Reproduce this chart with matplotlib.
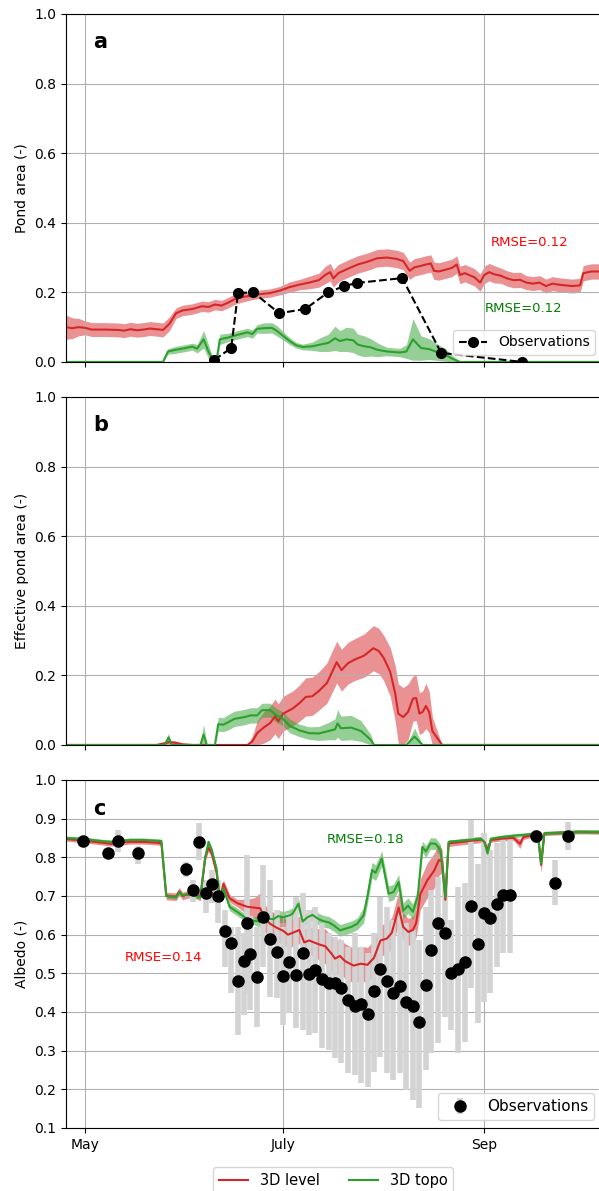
import numpy as np
import matplotlib.pyplot as plt

# time axis: days counted from 1 May
month_days = [0, 61, 123]
month_names = ['May', 'July', 'Sep']

# (a) pond area, 3D level run
pond_level_day = [-6, -4, -2, 0, 2, 6, 10, 12, 14, 16, 18, 20, 22, 24, 26, 28, 30, 33, 36, 38,
                  40, 42, 44, 46, 48, 51, 54, 57, 60, 63, 66, 69, 72, 74, 75.5, 76.5, 78, 81, 84, 87,
                  90, 93, 96, 98, 100, 101.5, 103, 105, 106.5, 107.5, 109, 111, 113, 114.5, 115.5,
                  117, 120, 121.7, 123, 124.5, 126, 128, 130, 132, 134, 136, 138, 140, 142, 144,
                  146, 148, 150, 152.5, 153.5, 156, 158.5]
pond_level = [0.10, 0.097, 0.10, 0.098, 0.093, 0.093, 0.092, 0.09, 0.094, 0.091, 0.093, 0.096, 0.094,
              0.092, 0.11, 0.14, 0.148, 0.152, 0.16, 0.158, 0.165, 0.162, 0.17, 0.18, 0.186, 0.19,
              0.195, 0.198, 0.205, 0.215, 0.222, 0.228, 0.235, 0.25, 0.258, 0.24, 0.255, 0.268, 0.28,
              0.288, 0.298, 0.30, 0.296, 0.29, 0.262, 0.272, 0.275, 0.28, 0.283, 0.262, 0.26, 0.265,
              0.27, 0.28, 0.25, 0.255, 0.243, 0.228, 0.25, 0.258, 0.252, 0.248, 0.24, 0.235, 0.236,
              0.228, 0.225, 0.228, 0.218, 0.225, 0.222, 0.22, 0.218, 0.22, 0.255, 0.26, 0.26]
pond_level_sd = ([0.035, 0.03, 0.025] + [0.02] * 12 + [0.015] * 10 + [0.012] * 4
                 + [0.015, 0.015, 0.018, 0.02] + [0.025] * 28 + [0.022] * 4 + [0.02] * 9 + [0.022] * 3)

# (a) pond area, 3D topo run
pond_topo_day = [-6, 24, 25.5, 28, 31, 33, 34.5, 36.5, 38, 39.5, 40.5, 41.5, 44, 47, 50, 51.5, 53, 55,
                 57.5, 59, 61, 63, 65, 67, 70, 72.5, 75, 77, 78.5, 80.5, 82.6, 84, 86, 88, 90, 93, 97,
                 99, 101, 102, 103.5, 106, 108, 111, 113, 115.5, 158.5]
pond_topo = [0, 0, 0.03, 0.035, 0.04, 0.044, 0.038, 0.065, 0.03, 0.003, 0.005, 0.065, 0.07, 0.078,
             0.085, 0.08, 0.095, 0.097, 0.098, 0.09, 0.075, 0.06, 0.048, 0.043, 0.045, 0.05, 0.055,
             0.068, 0.06, 0.065, 0.062, 0.05, 0.045, 0.042, 0.035, 0.03, 0.027, 0.03, 0.065, 0.055,
             0.04, 0.037, 0.03, 0.02, 0.01, 0, 0]
pond_topo_sd = [0, 0, 0.008, 0.01, 0.01, 0.01, 0.012, 0.025, 0.02, 0.005, 0.005, 0.015, 0.012, 0.012,
                0.012, 0.012, 0.012, 0.015, 0.015, 0.015, 0.012, 0.01, 0.008, 0.008, 0.012, 0.02, 0.025,
                0.035, 0.03, 0.035, 0.035, 0.03, 0.03, 0.025, 0.02, 0.012, 0.012, 0.02, 0.06, 0.05,
                0.035, 0.03, 0.025, 0.018, 0.01, 0, 0]

# (a) observed pond fraction
obs_pond_day = [39.8, 45.0, 47.1, 51.8, 59.8, 67.8, 74.9, 79.8, 83.8, 97.7, 109.7, 134.7]
obs_pond = [0.006, 0.04, 0.198, 0.2, 0.14, 0.152, 0.2, 0.218, 0.227, 0.241, 0.026, 0.0]

# (b) effective pond area
eff_level_day = [-6, 22, 24, 26, 28, 30, 33, 50, 51.5, 53, 55, 57, 58.5, 59.5, 61, 64, 66, 68, 70, 72,
                 74.5, 77.5, 79, 81, 83, 86, 88.8, 90.5, 92, 94, 95.5, 96.5, 98, 99.5, 101, 102, 103,
                 104, 105, 106, 107, 108.5, 110, 158.5]
eff_level = [0, 0, 0.004, 0.008, 0.006, 0.002, 0, 0, 0.01, 0.034, 0.05, 0.063, 0.082, 0.068, 0.09,
             0.105, 0.12, 0.138, 0.14, 0.155, 0.178, 0.238, 0.215, 0.235, 0.245, 0.257, 0.278, 0.27,
             0.25, 0.21, 0.15, 0.09, 0.08, 0.095, 0.133, 0.135, 0.09, 0.095, 0.112, 0.095, 0.04, 0.02,
             0, 0]
eff_level_sd = [0, 0, 0.004, 0.006, 0.005, 0.002, 0, 0, 0.015, 0.035, 0.045, 0.048, 0.05, 0.05, 0.05,
                0.05, 0.052, 0.055, 0.055, 0.055, 0.058, 0.06, 0.06, 0.06, 0.06, 0.062, 0.065, 0.065,
                0.065, 0.07, 0.08, 0.085, 0.085, 0.08, 0.065, 0.065, 0.06, 0.06, 0.065, 0.06, 0.04,
                0.02, 0, 0]

eff_topo_day = [-6, 24.5, 25.7, 26.7, 35.5, 36.5, 37.5, 40, 41, 42.5, 44, 46, 49, 51, 53, 54.5, 57, 59,
                61, 63, 66, 69, 72, 75, 77, 77.8, 78.8, 82, 85, 88, 89, 99, 101.5, 104, 158.5]
eff_topo = [0, 0, 0.022, 0, 0, 0.03, 0, 0, 0.06, 0.058, 0.065, 0.075, 0.08, 0.085, 0.085, 0.1, 0.1,
            0.085, 0.075, 0.055, 0.042, 0.034, 0.033, 0.04, 0.045, 0.062, 0.048, 0.05, 0.04, 0.015,
            0, 0, 0.024, 0, 0]
eff_topo_sd = [0, 0, 0.012, 0, 0, 0.03, 0, 0, 0.02, 0.02, 0.022, 0.022, 0.022, 0.022, 0.022, 0.02,
               0.02, 0.02, 0.02, 0.02, 0.018, 0.018, 0.02, 0.025, 0.03, 0.04, 0.035, 0.035, 0.03,
               0.015, 0, 0, 0.025, 0, 0]

# (c) albedo
alb_level_day = [-6, 0, 5, 8, 10, 14, 18, 22, 23.5, 25, 28, 29, 30, 32, 34, 35.5, 37, 38, 39, 40.5,
                 41.5, 42.6, 44.5, 47, 50, 52, 54, 55, 57, 59, 61, 62.5, 64, 66, 67.5, 69, 72, 74, 76,
                 77, 78.5, 80, 82.7, 85, 87, 89, 91, 93, 94.5, 96.6, 98, 99.6, 101, 102, 103.3, 105.4,
                 107.5, 109, 110, 111, 112, 116, 120, 122, 123, 124, 125, 128, 132, 134, 135, 138,
                 139.5, 140.5, 141.5, 146, 152, 158.5]
alb_level = [0.848, 0.843, 0.838, 0.835, 0.838, 0.84, 0.84, 0.838, 0.836, 0.70, 0.698, 0.712, 0.70,
             0.705, 0.703, 0.698, 0.80, 0.825, 0.81, 0.76, 0.69, 0.732, 0.694, 0.681, 0.672, 0.67,
             0.668, 0.645, 0.628, 0.618, 0.61, 0.60, 0.605, 0.612, 0.58, 0.585, 0.575, 0.57, 0.55,
             0.538, 0.545, 0.532, 0.52, 0.525, 0.522, 0.54, 0.585, 0.59, 0.605, 0.67, 0.62, 0.607,
             0.612, 0.63, 0.705, 0.74, 0.765, 0.793, 0.79, 0.69, 0.836, 0.84, 0.844, 0.846, 0.84,
             0.818, 0.845, 0.848, 0.85, 0.835, 0.852, 0.858, 0.86, 0.78, 0.862, 0.863, 0.866, 0.865]
alb_level_sd = ([0.006] * 9 + [0.01] * 15 + [0.02, 0.025, 0.04] + [0.035] * 9 + [0.04, 0.045]
                + [0.045] * 8 + [0.04] * 4 + [0.035] * 4 + [0.04, 0.045, 0.045, 0.04, 0.03, 0.02]
                + [0.008] * 5 + [0.015] + [0.006] * 3 + [0.012] + [0.006] * 3 + [0.02] + [0.005] * 4)

alb_topo_day = [-6, 0, 5, 8, 10, 14, 18, 22, 23.5, 25, 28, 29, 30, 32, 34, 35.5, 37, 38, 39, 40.5,
                41.5, 42.6, 44.5, 47, 50, 52, 54, 55, 56, 58, 59.5, 61, 63, 64, 65.7, 67, 68.5, 70, 72,
                73.4, 75, 76.6, 78.6, 80, 82, 83.8, 85.8, 87, 88.4, 89.5, 91.4, 93.5, 95, 96.6, 98,
                99.5, 101, 102.5, 103.9, 105, 106.4, 108, 109.5, 111, 112, 116, 120, 122, 123, 124,
                125, 128, 132, 135, 139.5, 140.5, 141.5, 146, 152, 158.5]
alb_topo = [0.85, 0.847, 0.842, 0.84, 0.842, 0.845, 0.845, 0.843, 0.842, 0.70, 0.697, 0.71, 0.702,
            0.705, 0.70, 0.697, 0.80, 0.84, 0.82, 0.77, 0.69, 0.72, 0.672, 0.658, 0.64, 0.636, 0.634,
            0.65, 0.642, 0.64, 0.648, 0.645, 0.65, 0.655, 0.68, 0.634, 0.645, 0.651, 0.64, 0.635,
            0.632, 0.624, 0.611, 0.615, 0.62, 0.628, 0.65, 0.70, 0.767, 0.76, 0.797, 0.706, 0.71,
            0.736, 0.662, 0.675, 0.659, 0.70, 0.827, 0.815, 0.836, 0.835, 0.818, 0.697, 0.84, 0.843,
            0.847, 0.848, 0.84, 0.81, 0.848, 0.852, 0.856, 0.858, 0.862, 0.784, 0.862, 0.864, 0.866,
            0.866]
alb_topo_sd = [0.005] * 22 + [0.01] * 4 + [0.015] * 20 + [0.02] * 12 + [0.015] * 6 + [0.005] * 16

# (c) observed albedo with spread
obs_alb_day = [-0.8, 7.1, 10.1, 16.2, 31.2, 33.1, 35.0, 37.2, 39.0, 40.9,
               43.1, 45.0, 47.1, 49.1, 50.0, 50.9, 53.0, 54.8, 56.9, 59.0,
               61.1, 62.9, 64.9, 67.1, 69.0, 70.9, 73.0, 75.0, 77.0, 78.9,
               80.9, 83.1, 85.0, 87.1, 89.0, 91.0, 92.9, 94.8, 96.9, 98.9,
               101.0, 103.0, 105.1, 106.7, 108.8, 110.9, 112.8, 114.9, 117.0, 118.9,
               121.0, 122.8, 124.7, 126.8, 128.9, 130.8, 138.8, 144.8, 148.8]
obs_alb = [0.843, 0.812, 0.842, 0.810, 0.770, 0.715, 0.840, 0.707, 0.730, 0.701,
           0.610, 0.578, 0.480, 0.533, 0.629, 0.55, 0.490, 0.645, 0.588, 0.554,
           0.494, 0.528, 0.496, 0.552, 0.498, 0.509, 0.486, 0.476, 0.476, 0.461,
           0.431, 0.416, 0.421, 0.395, 0.453, 0.51, 0.48, 0.45, 0.468, 0.425,
           0.416, 0.375, 0.47, 0.56, 0.631, 0.605, 0.502, 0.51, 0.528, 0.675,
           0.576, 0.657, 0.642, 0.679, 0.703, 0.703, 0.855, 0.734, 0.855]
obs_alb_hi = [0.848, 0.82, 0.871, 0.828, 0.789, 0.741, 0.888, 0.741, 0.767, 0.741,
              0.664, 0.621, 0.621, 0.603, 0.806, 0.647, 0.621, 0.78, 0.741, 0.664,
              0.621, 0.655, 0.698, 0.707, 0.664, 0.672, 0.629, 0.603, 0.595, 0.586,
              0.569, 0.603, 0.569, 0.552, 0.603, 0.698, 0.672, 0.638, 0.655, 0.629,
              0.612, 0.586, 0.672, 0.716, 0.75, 0.759, 0.638, 0.724, 0.733, 0.897,
              0.784, 0.862, 0.819, 0.836, 0.849, 0.849, 0.871, 0.793, 0.892]
obs_alb_lo = [0.838, 0.80, 0.815, 0.784, 0.75, 0.685, 0.793, 0.655, 0.681, 0.629,
              0.517, 0.448, 0.341, 0.392, 0.448, 0.405, 0.362, 0.517, 0.44, 0.435,
              0.366, 0.397, 0.358, 0.353, 0.341, 0.345, 0.306, 0.302, 0.28, 0.267,
              0.241, 0.237, 0.216, 0.207, 0.246, 0.284, 0.241, 0.224, 0.241, 0.198,
              0.172, 0.151, 0.25, 0.293, 0.319, 0.388, 0.353, 0.293, 0.323, 0.461,
              0.371, 0.427, 0.448, 0.517, 0.552, 0.552, 0.836, 0.677, 0.819]

RED = '#d62728'
GREEN = '#2ca02c'


def model_band(ax, day, mid, sd, color, label, floor=None):
    day = np.array(day)
    mid = np.array(mid)
    sd = np.array(sd)
    lo = mid - sd
    if floor is not None:
        lo = np.maximum(lo, floor)
    ax.fill_between(day, lo, mid + sd, color=color, alpha=0.5, lw=0)
    ax.plot(day, mid, color=color, lw=1.5, label=label)


fig = plt.figure(figsize=(5.99, 11.91), dpi=100)
left, width, height = 0.1102, 0.895, 0.2922
ax1 = fig.add_axes([left, 0.6961, width, height])
ax2 = fig.add_axes([left, 0.3745, width, height])
ax3 = fig.add_axes([left, 0.0529, width, height])

# a: pond area
model_band(ax1, pond_level_day, pond_level, pond_level_sd, RED, '3D level', floor=0)
model_band(ax1, pond_topo_day, pond_topo, pond_topo_sd, GREEN, '3D topo', floor=0)
obs_line, = ax1.plot(obs_pond_day, obs_pond, 'k--o', ms=7, lw=1.5, label='Observations')
ax1.text(125, 0.342, 'RMSE=0.12', color='red', fontsize=9.5, va='center')
ax1.text(123, 0.155, 'RMSE=0.12', color='green', fontsize=9.5, va='center')
ax1.legend(handles=[obs_line], loc='lower right', fontsize=10)
ax1.set_ylabel('Pond area (-)', fontsize=10)

# b: effective pond area
model_band(ax2, eff_level_day, eff_level, eff_level_sd, RED, '3D level', floor=0)
model_band(ax2, eff_topo_day, eff_topo, eff_topo_sd, GREEN, '3D topo', floor=0)
ax2.set_ylabel('Effective pond area (-)', fontsize=10)

# c: albedo
obs_alb_arr = np.array(obs_alb)
yerr = [obs_alb_arr - np.array(obs_alb_lo), np.array(obs_alb_hi) - obs_alb_arr]
obs_pts = ax3.errorbar(obs_alb_day, obs_alb, yerr=yerr, fmt='o', color='k', ms=8,
                       ecolor='lightgray', elinewidth=4, capsize=0, label='Observations')
model_band(ax3, alb_level_day, alb_level, alb_level_sd, RED, '3D level')
model_band(ax3, alb_topo_day, alb_topo, alb_topo_sd, GREEN, '3D topo')
ax3.text(74.3, 0.845, 'RMSE=0.18', color='green', fontsize=9.5, va='center')
ax3.text(12.3, 0.54, 'RMSE=0.14', color='red', fontsize=9.5, va='center')
ax3.legend(handles=[obs_pts], loc='lower right', fontsize=11)
ax3.set_ylabel('Albedo (-)', fontsize=10)

for ax, letter in zip([ax1, ax2, ax3], ['a', 'b', 'c']):
    ax.set_xlim(-5.9, 159.3)
    ax.set_xticks(month_days)
    ax.grid(True)
    ax.tick_params(labelsize=10)
    ax.text(0.05, 0.918, letter, transform=ax.transAxes, fontsize=15,
            fontweight='bold', va='center')

ax1.set_ylim(0, 1)
ax2.set_ylim(0, 1)
ax3.set_ylim(0.1, 1.0)
ax3.set_yticks(np.arange(0.1, 1.01, 0.1))
ax1.set_xticklabels([])
ax2.set_xticklabels([])
ax3.set_xticklabels(month_names)

handles, labels = ax3.get_legend_handles_labels()
model_handles = [h for h, l in zip(handles, labels) if l != 'Observations']
fig.legend(model_handles, ['3D level', '3D topo'], loc='upper center',
           bbox_to_anchor=(0.556, 0.0202), ncol=2, fontsize=10.5, borderaxespad=0)

fig.savefig('out.png', dpi=100)
